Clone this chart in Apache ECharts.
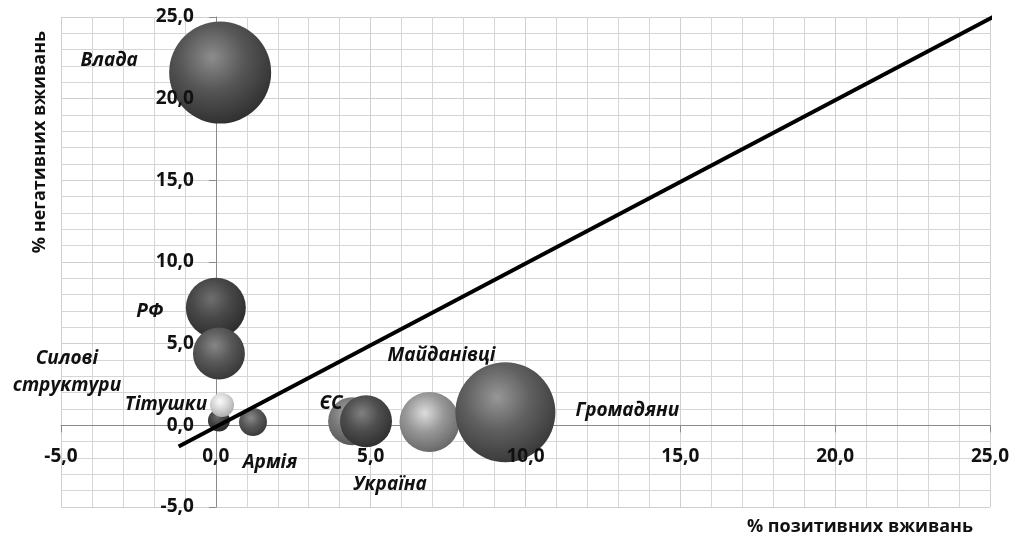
<!DOCTYPE html>
<html>
<head>
<meta charset="utf-8">
<script src="https://cdn.jsdelivr.net/npm/echarts@6/dist/echarts.min.js"></script>
<style>
    html, body { margin: 0; padding: 0; background: #fff; }
    #chart { width: 1017px; height: 537px; }
</style>
</head>
<body>
<div id="chart"></div>
<script>
// назви бульбашок (порожня назва - без підпису)
const names = ['Влада', 'РФ', 'Силові\nструктури', '', 'Тітушки', 'Армія', 'ЄС', 'Україна', 'Майданівці', 'Громадяни'];
// % позитивних вживань
const positive = [0.14, 0.0, 0.1, 0.1, 0.2, 1.2, 4.4, 4.85, 6.9, 9.35];
// % негативних вживань
const negative = [21.6, 7.2, 4.4, 0.3, 1.25, 0.2, 0.25, 0.25, 0.2, 0.8];
// вага (розмір бульбашки)
const weight = [104, 36, 27, 4.8, 5.8, 7.8, 23, 27, 36, 100];
// діагональ
const diagX = [-1.2, 25.3];
const diagY = [-1.3, 25.2];

// відтінки куль: [світла пляма, основний колір, край]
const shades = [
    ['#8c8c8c', '#565656', '#2a2a2a'],
    ['#6e6e6e', '#484848', '#282828'],
    ['#868686', '#585858', '#323232'],
    ['#6a6a6a', '#444444', '#242424'],
    ['#fbfbfb', '#d8d8d8', '#a4a4a4'],
    ['#8a8a8a', '#5a5a5a', '#333333'],
    ['#a8a8a8', '#7a7a7a', '#505050'],
    ['#808080', '#4e4e4e', '#2a2a2a'],
    ['#dcdcdc', '#979797', '#606060'],
    ['#979797', '#606060', '#333333']
];
// зсув підписів відносно центру кулі
const labelOffsets = [[-111, -12], [-66, 4], [-152, 19], [0, 0], [-56, 0], [17, 41], [-21, -18], [24, 63], [12, -66], [122, -2]];

const chart = echarts.init(document.getElementById('chart'));

const fmt = v => v.toFixed(1).replace('.', ',');

const bubbles = names.map((n, i) => ({
    name: n,
    value: [positive[i], negative[i], weight[i]],
    itemStyle: {
        opacity: 1,
        color: new echarts.graphic.RadialGradient(0.42, 0.35, 0.72, [
            { offset: 0, color: shades[i][0] },
            { offset: 0.45, color: shades[i][1] },
            { offset: 1, color: shades[i][2] }
        ])
    },
    label: { show: n !== '', offset: labelOffsets[i] }
}));

// розміри сітки
const gridL = 61, gridR = 27, gridT = 17, gridB = 30;
const pxX = (1017 - gridL - gridR) / 30;
const pxY = (537 - gridT - gridB) / 30;

// нижня вісь: сітка, лінія осі, риски (під кулями)
const baseAxis = {
    type: 'value',
    min: -5,
    max: 25,
    interval: 5,
    z: 0,
    axisLine: { onZero: false, lineStyle: { color: '#8a8a8a', width: 1 } },
    axisTick: { show: true, length: 7, lineStyle: { color: '#8a8a8a' } },
    axisLabel: { show: false },
    splitLine: { show: true, lineStyle: { color: '#cfcfcf', width: 1 } },
    minorTick: { show: false, splitNumber: 5 },
    minorSplitLine: { show: true, lineStyle: { color: '#d6d6d6', width: 1 } }
};

// верхня вісь: лише підписи (над кулями)
const labelAxis = {
    type: 'value',
    min: -5,
    max: 25,
    interval: 5,
    z: 10,
    axisLine: { show: false, onZero: false },
    axisTick: { show: false },
    splitLine: { show: false },
    axisLabel: {
        formatter: fmt,
        color: '#111',
        fontFamily: 'Open Sans',
        fontWeight: 'bold',
        fontSize: 19,
        margin: 22
    }
};

const option = {
    animation: false,
    grid: { left: gridL, right: gridR, top: gridT, bottom: gridB },
    // осі перетинаються в нулі
    xAxis: [
        Object.assign({}, baseAxis, { offset: -5 * pxY }),
        Object.assign({}, labelAxis, { position: 'bottom', offset: -5 * pxY })
    ],
    yAxis: [
        Object.assign({}, baseAxis, { offset: -5 * pxX }),
        Object.assign({}, labelAxis, { position: 'left', offset: -5 * pxX })
    ],
    graphic: [
        {
            type: 'text',
            x: 40, y: 142,
            rotation: Math.PI / 2,
            style: {
                text: '% негативних вживань',
                font: 'bold 18px "Open Sans"',
                fill: '#111',
                align: 'center',
                verticalAlign: 'middle'
            }
        },
        {
            type: 'text',
            x: 860, y: 527,
            style: {
                text: '% позитивних вживань',
                font: 'bold 18px "Open Sans"',
                fill: '#111',
                align: 'center',
                verticalAlign: 'middle'
            }
        }
    ],
    series: [
        {
            type: 'scatter',
            data: bubbles,
            symbolSize: v => 10 * Math.sqrt(v[2]),
            z: 2,
            itemStyle: { opacity: 1 },
            label: {
                position: 'inside',
                formatter: p => p.name,
                color: '#111',
                textBorderWidth: 0,
                fontFamily: 'Open Sans',
                fontStyle: 'italic',
                fontWeight: 'bold',
                fontSize: 19,
                lineHeight: 27,
                align: 'center'
            }
        },
        {
            type: 'line',
            data: diagX.map((x, i) => [x, diagY[i]]),
            symbol: 'none',
            clip: false,
            z: 5,
            lineStyle: { color: '#000', width: 4 }
        }
    ]
};

chart.setOption(option);
</script>
</body>
</html>
